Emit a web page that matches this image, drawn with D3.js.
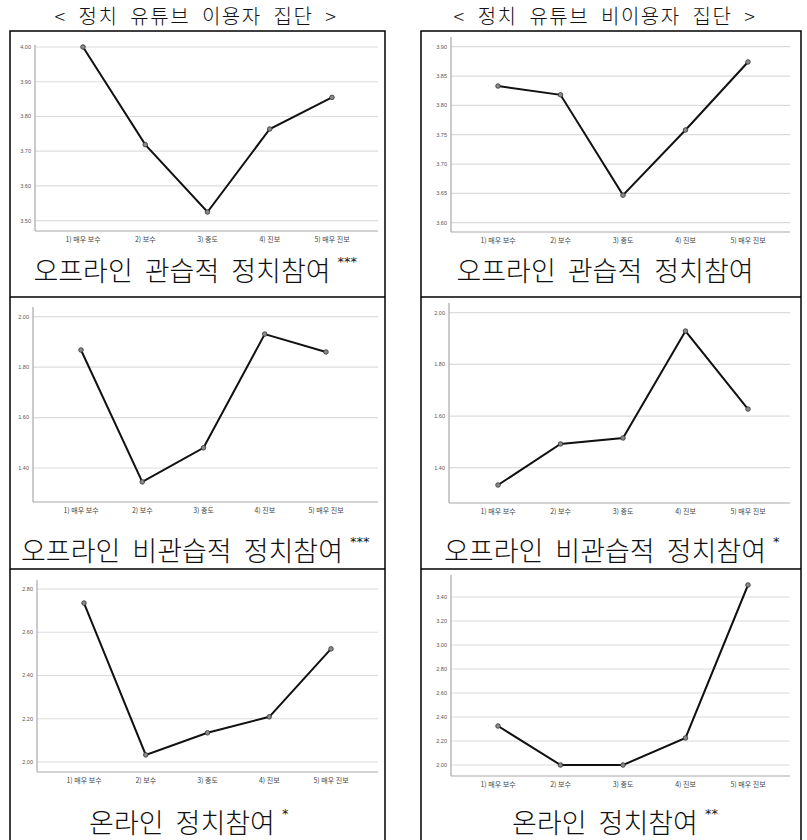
<!DOCTYPE html>
<head>
  <meta charset="utf-8">
  <title>정치 유튜브 이용자 / 비이용자 집단</title>
  <style>
    body {margin: 0; background: #fff;}
    svg {display: block; font-family: "Noto Sans CJK KR", sans-serif;}
    .grid line {stroke: #dcdcdc; stroke-width: 1.2;}
    .frame {fill: none; stroke: #000; stroke-width: 1.5;}
    .axisline {stroke: #a8a8a8; stroke-width: 1.2;}
    .ytick {font-size: 5.5px; fill: #555; font-family: "Liberation Sans", sans-serif;}
    .xtick {font-size: 7px; fill: #444;}
    .line {fill: none; stroke: #111; stroke-width: 2;}
    .dot {fill: #8a8a8a; stroke: #333; stroke-width: 0.8;}
  </style>
</head>
<body>
  <svg width="807" height="840"></svg>
  <script src="https://cdn.jsdelivr.net/npm/d3@7/dist/d3.min.js"></script>
  <script>
    // categories (정치 성향)
    var levels = ["1) 매우 보수", "2) 보수", "3) 중도", "4) 진보", "5) 매우 진보"];

    // group headers
    var groupTitles = ["< 정치 유튜브 이용자 집단 >", "< 정치 유튜브 비이용자 집단 >"];

    // mean values
    var userOfflineConv      = [4.000, 3.719, 3.525, 3.764, 3.855];
    var nonUserOfflineConv   = [3.833, 3.818, 3.647, 3.758, 3.874];
    var userOfflineUnconv    = [1.868, 1.345, 1.480, 1.931, 1.860];
    var nonUserOfflineUnconv = [1.333, 1.492, 1.515, 1.929, 1.627];
    var userOnline           = [2.735, 2.033, 2.135, 2.209, 2.523];
    var nonUserOnline        = [2.325, 2.000, 2.000, 2.225, 3.500];

    // y tick labels
    var ticksUserConv    = [3.50, 3.60, 3.70, 3.80, 3.90, 4.00];
    var ticksNonUserConv = [3.60, 3.65, 3.70, 3.75, 3.80, 3.85, 3.90];
    var ticksUnconv      = [1.40, 1.60, 1.80, 2.00];
    var ticksUserOnline  = [2.00, 2.20, 2.40, 2.60, 2.80];
    var ticksNonUserOnline = [2.00, 2.20, 2.40, 2.60, 2.80, 3.00, 3.20, 3.40];

    // panel titles and significance marks
    var panelTitles = ["오프라인 관습적 정치참여", "오프라인 관습적 정치참여",
                       "오프라인 비관습적 정치참여", "오프라인 비관습적 정치참여",
                       "온라인 정치참여", "온라인 정치참여"];
    var panelStars = ["***", "", "***", "*", "*", "**"];

    var svg = d3.select("svg");

    // frame: two columns, three rows
    var cols = [{x0: 10, x1: 385, cx: 182}, {x0: 421, x1: 801, cx: 605}];
    var rowLines = [31, 297, 569, 842];
    cols.forEach(function(c) {
      svg.append("rect").attr("class", "frame")
          .attr("x", c.x0).attr("y", rowLines[0])
          .attr("width", c.x1 - c.x0).attr("height", rowLines[3] - rowLines[0]);
      rowLines.slice(1, 3).forEach(function(y) {
        svg.append("line").attr("class", "frame")
            .attr("x1", c.x0).attr("x2", c.x1).attr("y1", y).attr("y2", y);
      });
    });

    // headers
    svg.selectAll(".header")
        .data(groupTitles)
      .enter().append("text")
        .attr("class", "header")
        .attr("x", function(d, i) { return i ? 605 : 196; })
        .attr("y", 24)
        .attr("text-anchor", "middle")
        .attr("font-size", 20)
        .attr("font-weight", 300)
        .attr("letter-spacing", 1.5)
        .attr("fill", "#111")
        .attr("word-spacing", 6)
        .text(function(d) { return d; });

    // panel layouts (pixel positions of the plot areas)
    var panels = [
      {values: userOfflineConv, ticks: ticksUserConv, ax: 35, top: 45, bottom: 231, right: 378, x0: 83, x1: 332, py: [220.7, 47], titleY: 281},
      {values: nonUserOfflineConv, ticks: ticksNonUserConv, ax: 451, top: 37, bottom: 232, right: 790, x0: 498, x1: 748, py: [222.7, 46.7], titleY: 281},
      {values: userOfflineUnconv, ticks: ticksUnconv, ax: 33, top: 307, bottom: 502, right: 378, x0: 81, x1: 326, py: [468, 316.7], titleY: 561},
      {values: nonUserOfflineUnconv, ticks: ticksUnconv, ax: 449, top: 303, bottom: 503, right: 790, x0: 498, x1: 748, py: [467.7, 312.7], titleY: 561},
      {values: userOnline, ticks: ticksUserOnline, ax: 37, top: 580, bottom: 772, right: 378, x0: 84, x1: 331, py: [762, 589], titleY: 833},
      {values: nonUserOnline, ticks: ticksNonUserOnline, ax: 451, top: 575, bottom: 776, right: 790, x0: 498, x1: 748, py: [765, 597], titleY: 833}
    ];

    panels.forEach(function(p, i) {
      var g = svg.append("g").attr("class", "panel");

      var x = d3.scalePoint().domain(levels).range([p.x0, p.x1]);
      var y = d3.scaleLinear()
          .domain([p.ticks[0], p.ticks[p.ticks.length - 1]])
          .range(p.py);

      // gridlines
      g.append("g").attr("class", "grid")
        .selectAll("line")
          .data(p.ticks)
        .enter().append("line")
          .attr("x1", p.ax).attr("x2", p.right)
          .attr("y1", function(d) { return y(d); })
          .attr("y2", function(d) { return y(d); });

      // axis lines
      g.append("line").attr("class", "axisline")
          .attr("x1", p.ax).attr("x2", p.ax).attr("y1", p.top).attr("y2", p.bottom);
      g.append("line").attr("class", "axisline")
          .attr("x1", p.ax).attr("x2", p.right).attr("y1", p.bottom).attr("y2", p.bottom);

      // y tick labels
      g.selectAll(".ytick")
          .data(p.ticks)
        .enter().append("text")
          .attr("class", "ytick")
          .attr("x", p.ax - 4)
          .attr("y", function(d) { return y(d); })
          .attr("dy", "0.35em")
          .attr("text-anchor", "end")
          .text(function(d) { return d3.format(".2f")(d); });

      // x tick labels
      g.selectAll(".xtick")
          .data(levels)
        .enter().append("text")
          .attr("class", "xtick")
          .attr("x", function(d) { return x(d); })
          .attr("y", p.bottom + 11)
          .attr("text-anchor", "middle")
          .text(function(d) { return d; });

      // line and points
      var line = d3.line()
          .x(function(d, j) { return x(levels[j]); })
          .y(function(d) { return y(d); });

      g.append("path").attr("class", "line").attr("d", line(p.values));

      g.selectAll(".dot")
          .data(p.values)
        .enter().append("circle")
          .attr("class", "dot")
          .attr("cx", function(d, j) { return x(levels[j]); })
          .attr("cy", function(d) { return y(d); })
          .attr("r", 2.3);

      // title with significance stars
      var cx = cols[i % 2].cx;
      var title = g.append("text")
          .attr("x", cx)
          .attr("y", p.titleY)
          .attr("text-anchor", "middle")
          .attr("font-size", 27)
          .attr("font-weight", 300)
          .attr("fill", "#111")
          .attr("word-spacing", 6)
          .text(panelTitles[i]);
      if (panelStars[i]) {
        var w = title.node().getComputedTextLength();
        g.append("text")
            .attr("x", cx + w / 2 + 7)
            .attr("y", p.titleY - 15)
            .attr("font-size", 13)
            .attr("font-family", "DejaVu Sans, sans-serif")
            .attr("fill", "#111")
            .text(panelStars[i]);
      }
    });
  </script>
</body>
